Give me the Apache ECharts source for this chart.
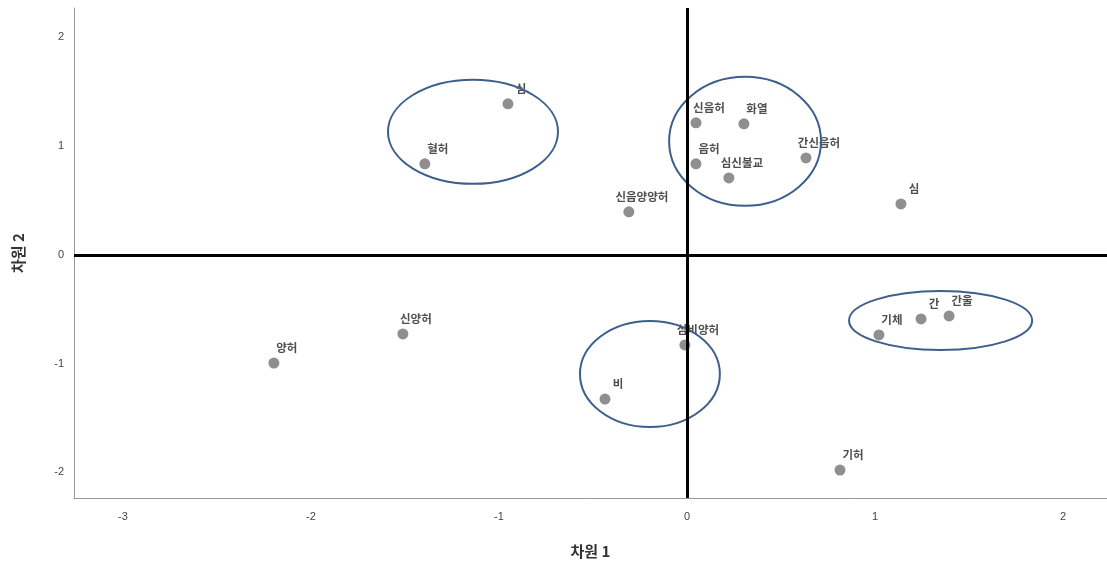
<!DOCTYPE html>
<html>
<head>
<meta charset="utf-8">
<script src="https://cdn.jsdelivr.net/npm/echarts@6/dist/echarts.min.js"></script>
<style>
  html, body { margin: 0; padding: 0; background: #fff; }
  #chart { width: 1107px; height: 567px; }
</style>
</head>
<body>
<div id="chart"></div>
<script>
// Point labels and coordinates (dimension 1, dimension 2)
const labels = ['심', '혈허', '신음허', '화열', '음허', '심신불교', '간신음허', '신음양양허', '심',
                '신양허', '양허', '심비양허', '비', '기체', '간', '간울', '기허'];
const dim1 = [-0.952, -1.394, 0.048, 0.303, 0.048, 0.223, 0.633, -0.309, 1.138,
              -1.511, -2.197, -0.011, -0.436, 1.021, 1.245, 1.394, 0.814];
const dim2 = [1.389, 0.837, 1.214, 1.205, 0.837, 0.708, 0.892, 0.396, 0.469,
              -0.727, -0.994, -0.828, -1.325, -0.736, -0.589, -0.561, -1.978];

// Cluster ellipses (center x, center y, radius x, radius y) in data units
const ellipseCx = [-1.138, 0.309, -0.197, 1.349];
const ellipseCy = [1.132, 1.044, -1.095, -0.603];
const ellipseRx = [0.452, 0.404, 0.372, 0.487];
const ellipseRy = [0.478, 0.593, 0.488, 0.271];

const xTicks = [-3, -2, -1, 0, 1, 2];
const yTicks = [-2, -1, 0, 1, 2];

const points = labels.map((l, i) => [dim1[i], dim2[i], l]);
const ellipses = ellipseCx.map((c, i) => [c, ellipseCy[i], ellipseRx[i], ellipseRy[i]]);

const chart = echarts.init(document.getElementById('chart'), null, { renderer: 'canvas' });
const tickFont = { color: '#444', fontSize: 11, fontFamily: 'Liberation Sans, Arial, sans-serif' };
const nameFont = { color: '#333', fontSize: 15, fontWeight: 'bold', fontFamily: 'Noto Sans CJK KR, sans-serif' };

chart.setOption({
  animation: false,
  backgroundColor: '#ffffff',
  grid: { left: 74, right: 0, top: 8, bottom: 69, containLabel: false },
  xAxis: {
    type: 'value', min: -3.26, max: 2.234,
    name: '차원 1', nameLocation: 'middle', nameGap: 46, nameTextStyle: nameFont,
    axisLine: { show: true, onZero: false, lineStyle: { color: '#999', width: 1 } },
    axisTick: { show: false },
    splitLine: { show: false },
    axisLabel: Object.assign({ margin: 13, customValues: xTicks }, tickFont)
  },
  yAxis: {
    type: 'value', min: -2.235, max: 2.27,
    name: '차원 2', nameLocation: 'middle', nameGap: 48, nameRotate: 90, nameTextStyle: nameFont,
    axisLine: { show: true, onZero: false, lineStyle: { color: '#999', width: 1 } },
    axisTick: { show: false },
    splitLine: { show: false },
    axisLabel: Object.assign({ margin: 10, customValues: yTicks }, tickFont)
  },
  series: [
    {
      type: 'scatter',
      data: points,
      symbolSize: 11,
      itemStyle: { color: '#737373' },
      label: {
        show: true,
        formatter: p => p.data[2],
        position: 'top',
        distance: 4,
        offset: [13, 0],
        color: '#222',
        fontSize: 11.5,
        fontWeight: 'bold',
        fontFamily: 'Noto Sans CJK KR, sans-serif'
      },
      markLine: {
        silent: true,
        symbol: 'none',
        label: { show: false },
        lineStyle: { color: '#000', width: 3, type: 'solid' },
        data: [{ xAxis: 0 }, { yAxis: 0 }]
      },
      z: 3
    },
    {
      type: 'custom',
      data: ellipses,
      silent: true,
      z: 4,
      renderItem: function (params, api) {
        const c = api.coord([api.value(0), api.value(1)]);
        const s = api.size([api.value(2), api.value(3)]);
        const rx = s[0], ry = s[1];
        const d = 'M' + (c[0] - rx) + ' ' + c[1] +
          ' A' + rx + ' ' + ry + ' 0 1 0 ' + (c[0] + rx) + ' ' + c[1] +
          ' A' + rx + ' ' + ry + ' 0 1 0 ' + (c[0] - rx) + ' ' + c[1] + ' Z';
        return {
          type: 'path',
          shape: { pathData: d },
          style: { fill: 'none', stroke: '#3e5f8c', lineWidth: 2 }
        };
      }
    }
  ]
});
</script>
</body>
</html>
